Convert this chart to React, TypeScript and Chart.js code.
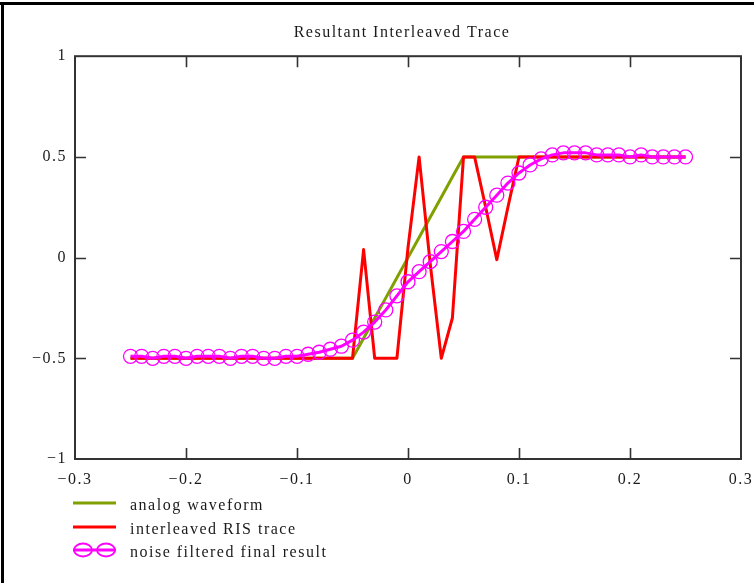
import React, { useEffect, useRef } from "react";
import { Chart, registerables } from "chart.js";

Chart.register(...registerables);

const chartTitle = "Resultant Interleaved Trace";
const seriesNames = ["analog waveform", "interleaved RIS trace", "noise filtered final result"];
const seriesColors = ["#80a000", "#ff0000", "#ff00ff"];

const xTickLabels = ["\u22120.3", "\u22120.2", "\u22120.1", "0", "0.1", "0.2", "0.3"];
const yTickLabels = ["\u22121", "\u22120.5", "0", "0.5", "1"];

const xValues = [
  -0.25, -0.24, -0.23, -0.22, -0.21, -0.2, -0.19, -0.18, -0.17, -0.16,
  -0.15, -0.14, -0.13, -0.12, -0.11, -0.1, -0.09, -0.08, -0.07, -0.06,
  -0.05, -0.04, -0.03, -0.02, -0.01, 0, 0.01, 0.02, 0.03, 0.04,
  0.05, 0.06, 0.07, 0.08, 0.09, 0.1, 0.11, 0.12, 0.13, 0.14,
  0.15, 0.16, 0.17, 0.18, 0.19, 0.2, 0.21, 0.22, 0.23, 0.24, 0.25,
];

const analogWave = [
  -0.5, -0.5, -0.5, -0.5, -0.5, -0.5, -0.5, -0.5, -0.5, -0.5,
  -0.5, -0.5, -0.5, -0.5, -0.5, -0.5, -0.5, -0.5, -0.5, -0.5,
  -0.5, -0.4, -0.3, -0.2, -0.1, 0, 0.1, 0.2, 0.3, 0.4,
  0.5, 0.5, 0.5, 0.5, 0.5, 0.5, 0.5, 0.5, 0.5, 0.5,
  0.5, 0.5, 0.5, 0.5, 0.5, 0.5, 0.5, 0.5, 0.5, 0.5, 0.5,
];

const risTrace = [
  -0.5, -0.5, -0.5, -0.5, -0.5, -0.5, -0.5, -0.5, -0.5, -0.5,
  -0.5, -0.5, -0.5, -0.5, -0.5, -0.5, -0.5, -0.5, -0.5, -0.5,
  -0.5, 0.04, -0.5, -0.5, -0.5, 0.05, 0.5, -0.03, -0.5, -0.3,
  0.5, 0.5, 0.25, -0.01, 0.25, 0.5, 0.5, 0.5, 0.5, 0.5,
  0.5, 0.5, 0.5, 0.5, 0.5, 0.5, 0.5, 0.5, 0.5, 0.5, 0.5,
];

const filteredResult = [
  -0.49, -0.49, -0.5, -0.49, -0.49, -0.5, -0.49, -0.49, -0.49, -0.5,
  -0.49, -0.49, -0.5, -0.5, -0.49, -0.49, -0.48, -0.47, -0.455, -0.44,
  -0.41, -0.37, -0.32, -0.26, -0.19, -0.12, -0.07, -0.02, 0.03, 0.08,
  0.13, 0.19, 0.25, 0.31, 0.37, 0.42, 0.46, 0.49, 0.51, 0.52,
  0.52, 0.52, 0.51, 0.51, 0.51, 0.5, 0.51, 0.5, 0.5, 0.5, 0.5,
];

const FONT = "'Liberation Serif', 'Times New Roman', serif";

const framePlugin = {
  id: "framePlugin",
  afterLayout(chart: any) {
    const tb = chart.titleBlock;
    if (tb) tb.left -= 12;
  },
  beforeDraw(chart: any) {
    chart.ctx.letterSpacing = "1.5px";
  },
  afterDraw(chart: any) {
    const ctx = chart.ctx;
    const { left, right, top, bottom } = chart.chartArea;
    const xs = chart.scales.x;
    const ys = chart.scales.y;
    ctx.save();
    ctx.strokeStyle = "#333";
    ctx.lineWidth = 2;
    ctx.strokeRect(left, top, right - left, bottom - top);
    ctx.lineWidth = 1.6;
    const tl = 11;
    ctx.beginPath();
    xs.ticks.forEach((t: any) => {
      const px = Math.round(xs.getPixelForValue(t.value)) + 0.5;
      if (px <= left + 2 || px >= right - 2) return;
      ctx.moveTo(px, bottom);
      ctx.lineTo(px, bottom - tl);
      ctx.moveTo(px, top);
      ctx.lineTo(px, top + tl);
    });
    ys.ticks.forEach((t: any) => {
      const py = Math.round(ys.getPixelForValue(t.value)) + 0.5;
      if (py <= top + 2 || py >= bottom - 2) return;
      ctx.moveTo(left, py);
      ctx.lineTo(left + tl, py);
      ctx.moveTo(right, py);
      ctx.lineTo(right - tl, py);
    });
    ctx.stroke();

    // legend
    const rows = [505, 529, 552];
    const x0 = 73;
    const x1 = 116;
    const tx = 130;
    chart.data.datasets.forEach((ds: any, i: number) => {
      const y = rows[i];
      ctx.strokeStyle = ds.borderColor;
      ctx.lineWidth = 3;
      ctx.beginPath();
      ctx.moveTo(x0, y - 2);
      ctx.lineTo(x1, y - 2);
      ctx.stroke();
      if (ds.pointRadius > 0) {
        ctx.lineWidth = 1.8;
        [83, 106].forEach((cx) => {
          ctx.beginPath();
          ctx.ellipse(cx, y - 2, 9, 6.5, 0, 0, Math.PI * 2);
          ctx.stroke();
        });
      }
      ctx.fillStyle = "#1a1a1a";
      ctx.font = "16px " + FONT;
      ctx.letterSpacing = "1.5px";
      ctx.textBaseline = "middle";
      ctx.textAlign = "left";
      ctx.fillText(ds.label, tx, y + 1);
    });
    ctx.restore();
  },
};

export default function App() {
  const ref = useRef<HTMLCanvasElement>(null);
  useEffect(() => {
    document.body.style.margin = "0";
    const canvas = ref.current!;
    const mk = (arr: number[]) => xValues.map((x, i) => ({ x, y: arr[i] }));
    const chart = new Chart(canvas, {
      type: "line",
      data: {
        datasets: [
          {
            label: seriesNames[0],
            data: mk(analogWave),
            borderColor: seriesColors[0],
            borderWidth: 3,
            borderJoinStyle: "round",
            pointRadius: 0,
            order: 2,
          },
          {
            label: seriesNames[1],
            data: mk(risTrace),
            borderColor: seriesColors[1],
            borderWidth: 3,
            borderJoinStyle: "round",
            pointRadius: 0,
            order: 1,
          },
          {
            label: seriesNames[2],
            data: mk(filteredResult),
            borderColor: seriesColors[2],
            borderWidth: 3,
            borderJoinStyle: "round",
            pointRadius: 7,
            pointBorderWidth: 1.3,
            pointBackgroundColor: "rgba(0,0,0,0)",
            pointBorderColor: seriesColors[2],
            order: 0,
          },
        ],
      },
      options: {
        animation: false,
        responsive: false,
        devicePixelRatio: 1,
        events: [],
        layout: { padding: { left: 0, right: 13, top: 0, bottom: 0 } },
        plugins: {
          legend: { display: false },
          tooltip: { enabled: false },
          title: {
            display: true,
            fullSize: false,
            text: chartTitle,
            color: "#1a1a1a",
            font: { family: FONT, size: 16, weight: "normal" },
            padding: { top: 23, bottom: 14 },
          },
        },
        scales: {
          x: {
            type: "linear",
            min: -0.3,
            max: 0.3,
            grid: { display: false, drawTicks: false },
            border: { display: false },
            ticks: {
              stepSize: 0.1,
              autoSkip: false,
              maxRotation: 0,
              padding: 11,
              color: "#1a1a1a",
              font: { family: FONT, size: 16 },
              callback: (_v: any, i: number) => xTickLabels[i],
            },
            afterFit: (s: any) => {
              s.height = 124;
              s.paddingLeft = 0;
              s.paddingRight = 0;
            },
          },
          y: {
            type: "linear",
            min: -1,
            max: 1,
            grid: { display: false, drawTicks: false },
            border: { display: false },
            ticks: {
              stepSize: 0.5,
              padding: 8,
              color: "#1a1a1a",
              font: { family: FONT, size: 16 },
              callback: (_v: any, i: number) => yTickLabels[i],
            },
            afterFit: (s: any) => {
              s.width = 75;
              s.paddingTop = 0;
              s.paddingBottom = 0;
            },
          },
        },
      },
      plugins: [framePlugin],
    } as any);
    return () => chart.destroy();
  }, []);

  return (
    <div
      style={{
        position: "fixed",
        left: 0,
        top: 0,
        width: 754,
        height: 583,
        background: "#fff",
      }}
    >
      <canvas ref={ref} width={754} height={583} style={{ position: "absolute", left: 0, top: 0 }} />
      <div style={{ position: "absolute", left: 0, top: 2, width: 754, height: 3, background: "#000" }} />
      <div style={{ position: "absolute", left: 1, top: 2, width: 3, height: 581, background: "#000" }} />
    </div>
  );
}
